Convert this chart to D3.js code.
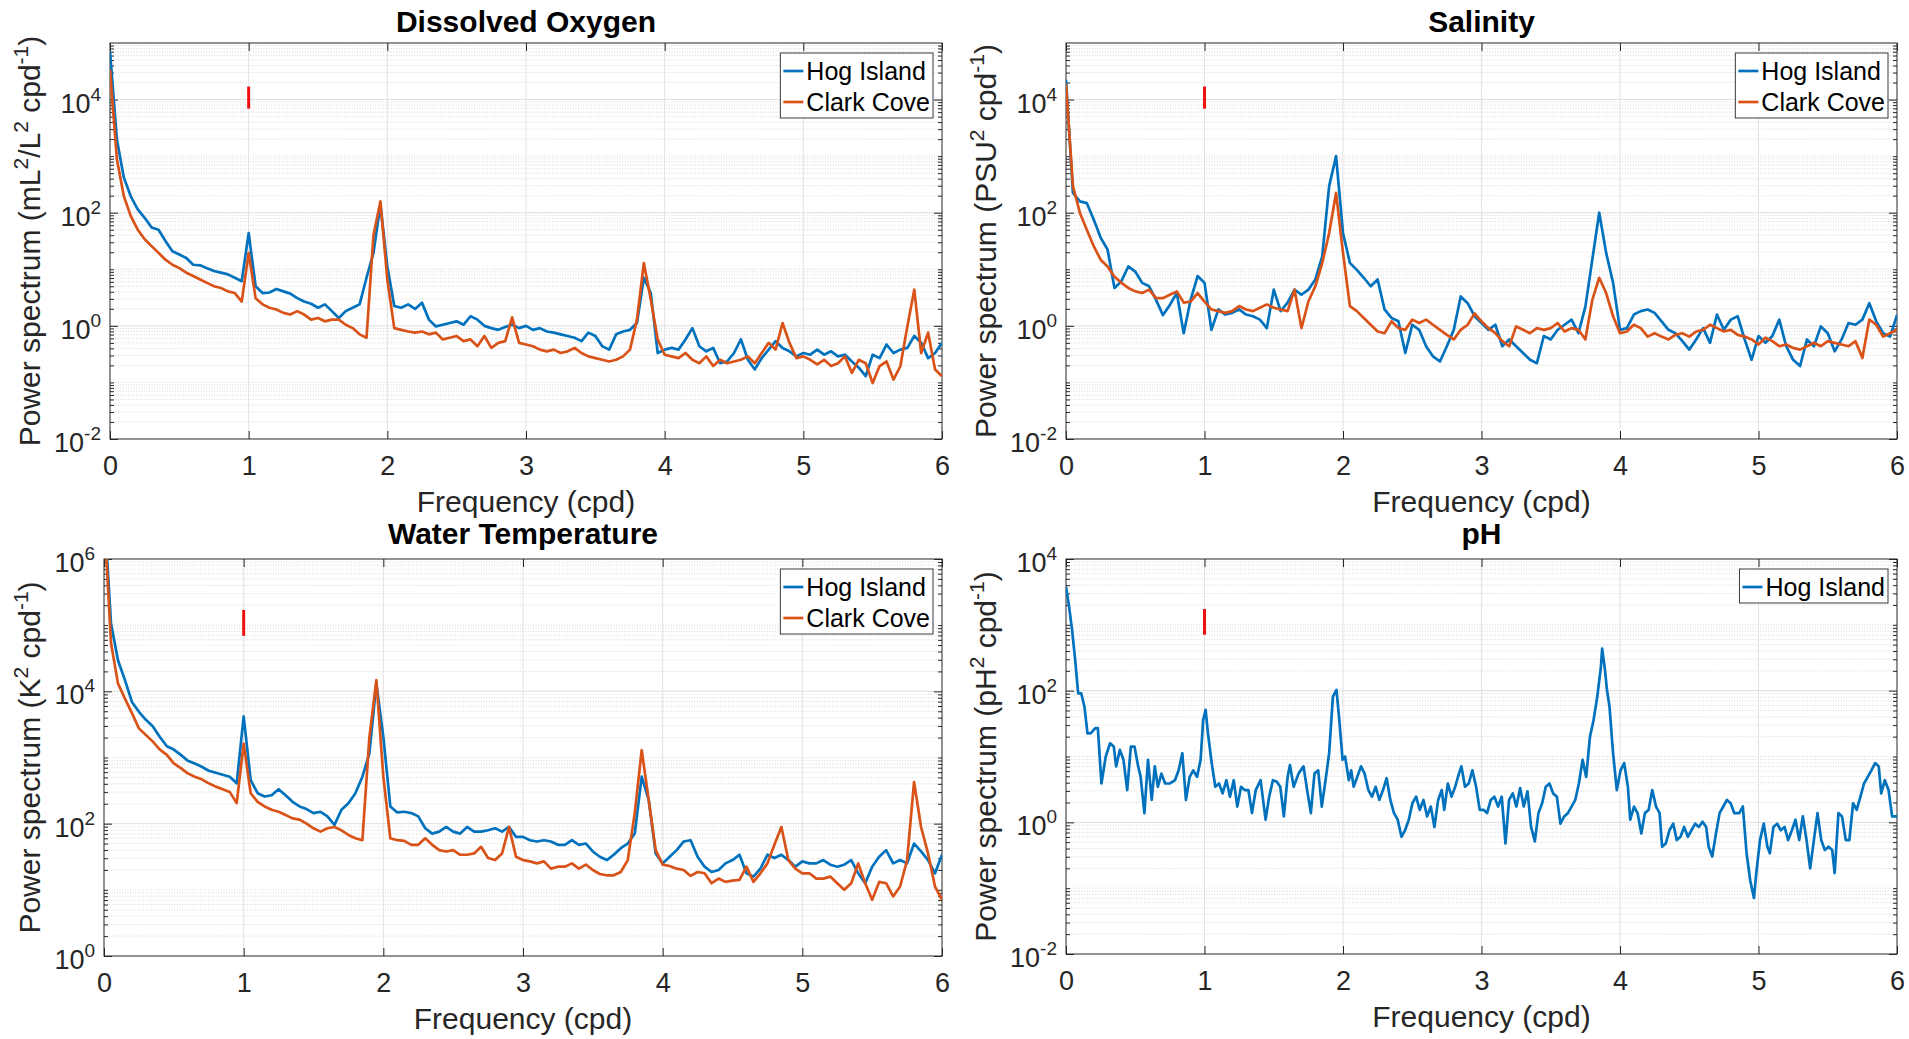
<!DOCTYPE html>
<html>
<head>
<meta charset="utf-8">
<script src="https://cdn.jsdelivr.net/npm/d3@7"></script>
<style>
    body { margin: 0; background: #fff; }
    svg { display: block; font-family: Arial, 'Liberation Sans', Helvetica, sans-serif; }
</style>
</head>
<body>
<svg id="chart" width="1909" height="1039"></svg>
<script>

// frequency bins (cpd) shared by the DO, salinity and temperature spectra
const freq = [
    0, 0.05, 0.1, 0.15, 0.2, 0.25, 0.3, 0.35, 0.4, 0.45,
    0.5, 0.55, 0.6, 0.65, 0.7, 0.75, 0.8, 0.85, 0.9, 0.95,
    1, 1.05, 1.1, 1.15, 1.2, 1.25, 1.3, 1.35, 1.4, 1.45,
    1.5, 1.55, 1.6, 1.65, 1.7, 1.75, 1.8, 1.85, 1.9, 1.95,
    2, 2.05, 2.1, 2.15, 2.2, 2.25, 2.3, 2.35, 2.4, 2.45,
    2.5, 2.55, 2.6, 2.65, 2.7, 2.75, 2.8, 2.85, 2.9, 2.95,
    3, 3.05, 3.1, 3.15, 3.2, 3.25, 3.3, 3.35, 3.4, 3.45,
    3.5, 3.55, 3.6, 3.65, 3.7, 3.75, 3.8, 3.85, 3.9, 3.95,
    4, 4.05, 4.1, 4.15, 4.2, 4.25, 4.3, 4.35, 4.4, 4.45,
    4.5, 4.55, 4.6, 4.65, 4.7, 4.75, 4.8, 4.85, 4.9, 4.95,
    5, 5.05, 5.1, 5.15, 5.2, 5.25, 5.3, 5.35, 5.4, 5.45,
    5.5, 5.55, 5.6, 5.65, 5.7, 5.75, 5.8, 5.85, 5.9, 5.95,
    6
]

// spectra, stored as log10 of the power
const doHogLog = [
    4.85, 3.29, 2.62, 2.29, 2.06, 1.91, 1.74, 1.70, 1.50, 1.32,
    1.26, 1.20, 1.08, 1.07, 1.02, 0.97, 0.94, 0.91, 0.85, 0.79,
    1.64, 0.70, 0.58, 0.59, 0.65, 0.61, 0.57, 0.49, 0.43, 0.39,
    0.32, 0.38, 0.26, 0.14, 0.26, 0.32, 0.38, 0.85, 1.29, 2.14,
    1.05, 0.35, 0.32, 0.38, 0.30, 0.41, 0.11, -0.01, 0.02, 0.05,
    0.08, 0.02, 0.17, 0.11, 0.00, -0.04, -0.07, -0.02, 0.02, -0.04,
    0.00, -0.07, -0.04, -0.10, -0.12, -0.15, -0.18, -0.21, -0.27, -0.12,
    -0.18, -0.36, -0.42, -0.15, -0.10, -0.07, 0.05, 0.85, 0.58, -0.48,
    -0.42, -0.39, -0.42, -0.24, -0.04, -0.36, -0.45, -0.39, -0.66, -0.63,
    -0.48, -0.24, -0.60, -0.77, -0.57, -0.42, -0.27, -0.39, -0.45, -0.54,
    -0.48, -0.51, -0.42, -0.51, -0.45, -0.54, -0.51, -0.63, -0.74, -0.89,
    -0.51, -0.57, -0.33, -0.48, -0.42, -0.39, -0.18, -0.30, -0.57, -0.48,
    -0.30
]
const doClarkLog = [
    4.53, 2.94, 2.29, 1.94, 1.70, 1.53, 1.41, 1.29, 1.17, 1.08,
    1.02, 0.94, 0.88, 0.82, 0.76, 0.70, 0.67, 0.61, 0.58, 0.43,
    1.29, 0.49, 0.38, 0.32, 0.29, 0.23, 0.20, 0.26, 0.20, 0.11,
    0.14, 0.08, 0.11, 0.11, 0.02, -0.04, -0.15, -0.21, 1.60, 2.20,
    0.82, -0.04, -0.07, -0.10, -0.12, -0.10, -0.15, -0.12, -0.24, -0.21,
    -0.18, -0.27, -0.24, -0.36, -0.18, -0.39, -0.30, -0.27, 0.15, -0.30,
    -0.33, -0.36, -0.42, -0.45, -0.42, -0.48, -0.45, -0.39, -0.48, -0.54,
    -0.57, -0.60, -0.63, -0.60, -0.54, -0.42, 0.11, 1.11, 0.46, -0.24,
    -0.51, -0.54, -0.57, -0.48, -0.60, -0.66, -0.54, -0.71, -0.60, -0.66,
    -0.63, -0.60, -0.54, -0.66, -0.48, -0.30, -0.42, 0.05, -0.30, -0.57,
    -0.54, -0.60, -0.68, -0.60, -0.71, -0.66, -0.54, -0.83, -0.60, -0.66,
    -1.01, -0.71, -0.63, -0.95, -0.71, -0.01, 0.64, -0.48, -0.12, -0.77,
    -0.89
]
const salHogLog = [
    4.35, 2.35, 2.20, 2.17, 1.88, 1.56, 1.35, 0.67, 0.79, 1.05,
    0.96, 0.76, 0.70, 0.46, 0.19, 0.37, 0.58, -0.13, 0.46, 0.88,
    0.76, -0.07, 0.29, 0.20, 0.23, 0.29, 0.20, 0.17, 0.11, -0.04,
    0.64, 0.26, 0.41, 0.64, 0.55, 0.64, 0.82, 1.23, 2.47, 3.00,
    1.64, 1.11, 0.99, 0.85, 0.70, 0.82, 0.29, 0.14, 0.08, -0.48,
    0.02, -0.07, -0.36, -0.54, -0.63, -0.36, -0.07, 0.52, 0.40, 0.17,
    0.05, -0.07, 0.02, -0.36, -0.24, -0.36, -0.48, -0.60, -0.66, -0.18,
    -0.24, -0.07, 0.02, 0.11, -0.13, 0.34, 1.17, 2.00, 1.29, 0.76,
    -0.07, -0.04, 0.20, 0.26, 0.29, 0.23, 0.08, -0.07, -0.13, -0.27,
    -0.42, -0.24, -0.04, -0.30, 0.20, -0.07, 0.11, 0.17, -0.24, -0.60,
    -0.18, -0.30, -0.18, 0.11, -0.36, -0.60, -0.71, -0.24, -0.36, -0.01,
    -0.13, -0.45, -0.24, 0.05, 0.02, 0.11, 0.40, 0.08, -0.13, -0.19,
    0.19
]
const salClarkLog = [
    4.27, 2.47, 2.00, 1.70, 1.41, 1.17, 1.05, 0.87, 0.76, 0.67,
    0.61, 0.58, 0.64, 0.49, 0.49, 0.55, 0.61, 0.41, 0.43, 0.58,
    0.43, 0.29, 0.26, 0.23, 0.26, 0.35, 0.29, 0.26, 0.32, 0.38,
    0.32, 0.29, 0.26, 0.64, -0.04, 0.43, 0.70, 1.11, 1.64, 2.35,
    1.29, 0.35, 0.26, 0.14, 0.02, -0.10, -0.13, 0.08, -0.04, -0.07,
    0.11, 0.05, 0.11, 0.02, -0.07, -0.16, -0.24, -0.07, 0.02, 0.22,
    0.08, -0.04, -0.13, -0.27, -0.36, -0.01, -0.07, -0.13, -0.04, -0.07,
    -0.04, 0.05, -0.10, -0.04, -0.07, -0.24, 0.46, 0.85, 0.58, 0.17,
    -0.13, -0.10, 0.02, -0.04, -0.19, -0.13, -0.19, -0.24, -0.16, -0.13,
    -0.19, -0.10, -0.07, 0.02, -0.04, -0.10, -0.07, -0.16, -0.19, -0.24,
    -0.33, -0.21, -0.27, -0.36, -0.33, -0.39, -0.42, -0.36, -0.30, -0.36,
    -0.27, -0.30, -0.33, -0.36, -0.27, -0.57, 0.11, 0.02, -0.19, -0.13,
    -0.07
]
const tempHogLog = [
    6.80, 5.03, 4.47, 4.17, 3.84, 3.69, 3.57, 3.47, 3.31, 3.17,
    3.12, 3.04, 2.95, 2.91, 2.86, 2.80, 2.77, 2.74, 2.71, 2.61,
    3.62, 2.66, 2.46, 2.41, 2.43, 2.52, 2.43, 2.33, 2.26, 2.22,
    2.16, 2.18, 2.11, 1.98, 2.21, 2.31, 2.46, 2.71, 3.06, 4.12,
    3.31, 2.26, 2.17, 2.18, 2.16, 2.11, 1.93, 1.85, 1.88, 1.95,
    1.88, 1.85, 1.95, 1.88, 1.88, 1.90, 1.93, 1.88, 1.95, 1.80,
    1.80, 1.75, 1.73, 1.75, 1.73, 1.68, 1.68, 1.75, 1.68, 1.70,
    1.58, 1.50, 1.45, 1.53, 1.63, 1.70, 1.85, 2.71, 2.36, 1.55,
    1.40, 1.50, 1.60, 1.73, 1.75, 1.50, 1.35, 1.27, 1.30, 1.40,
    1.45, 1.53, 1.25, 1.20, 1.32, 1.53, 1.48, 1.53, 1.45, 1.35,
    1.43, 1.40, 1.40, 1.45, 1.38, 1.35, 1.38, 1.45, 1.25, 1.10,
    1.35, 1.50, 1.60, 1.40, 1.45, 1.40, 1.70, 1.58, 1.45, 1.25,
    1.53
]
const tempClarkLog = [
    6.70, 4.73, 4.12, 3.89, 3.67, 3.44, 3.34, 3.24, 3.12, 3.04,
    2.91, 2.84, 2.76, 2.71, 2.67, 2.61, 2.56, 2.52, 2.48, 2.31,
    3.21, 2.46, 2.33, 2.26, 2.21, 2.18, 2.13, 2.08, 2.06, 2.00,
    1.93, 1.88, 1.93, 1.95, 1.90, 1.83, 1.78, 1.75, 3.30, 4.17,
    2.71, 1.78, 1.75, 1.74, 1.68, 1.68, 1.78, 1.68, 1.60, 1.58,
    1.60, 1.53, 1.53, 1.55, 1.65, 1.48, 1.45, 1.55, 1.95, 1.50,
    1.45, 1.43, 1.40, 1.43, 1.32, 1.35, 1.35, 1.40, 1.32, 1.38,
    1.30, 1.24, 1.22, 1.22, 1.27, 1.45, 2.16, 3.11, 2.36, 1.60,
    1.38, 1.36, 1.32, 1.30, 1.21, 1.27, 1.25, 1.10, 1.17, 1.12,
    1.14, 1.15, 1.35, 1.12, 1.25, 1.40, 1.68, 1.95, 1.45, 1.32,
    1.25, 1.25, 1.17, 1.17, 1.20, 1.10, 1.00, 1.10, 1.40, 1.10,
    0.85, 1.12, 1.10, 0.90, 1.05, 1.45, 2.63, 1.95, 1.55, 1.05,
    0.85
]

// pH spectrum is noisier, read at its own [frequency, log10 power] points
const phHogLog = [
    [0, 3.58], [0.022, 3.28], [0.044, 2.92], [0.066, 2.47], [0.088, 1.96], [0.110, 1.96],
    [0.133, 1.76], [0.155, 1.35], [0.177, 1.35], [0.212, 1.43], [0.230, 1.43], [0.256, 0.59],
    [0.287, 1.00], [0.318, 1.20], [0.345, 1.15], [0.362, 0.85], [0.389, 1.10], [0.415, 0.95],
    [0.442, 0.49], [0.468, 1.15], [0.495, 1.15], [0.521, 0.85], [0.539, 0.69], [0.566, 0.14],
    [0.592, 0.95], [0.619, 0.34], [0.641, 0.85], [0.663, 0.54], [0.689, 0.74], [0.716, 0.59],
    [0.751, 0.59], [0.787, 0.64], [0.813, 0.79], [0.840, 1.05], [0.866, 0.34], [0.893, 0.69],
    [0.919, 0.79], [0.946, 0.69], [0.972, 0.95], [0.990, 1.55], [1.008, 1.71], [1.025, 1.35],
    [1.052, 0.90], [1.078, 0.54], [1.105, 0.59], [1.131, 0.44], [1.158, 0.64], [1.184, 0.39],
    [1.211, 0.64], [1.237, 0.24], [1.264, 0.54], [1.290, 0.49], [1.317, 0.49], [1.343, 0.14],
    [1.370, 0.49], [1.405, 0.64], [1.441, 0.04], [1.467, 0.39], [1.494, 0.64], [1.520, 0.62],
    [1.547, 0.54], [1.573, 0.09], [1.600, 0.69], [1.617, 0.87], [1.644, 0.54], [1.679, 0.74],
    [1.715, 0.85], [1.741, 0.49], [1.768, 0.14], [1.794, 0.74], [1.821, 0.79], [1.847, 0.24],
    [1.874, 0.64], [1.900, 1.05], [1.927, 1.91], [1.953, 2.01], [1.971, 1.61], [1.997, 0.95],
    [2.015, 1.00], [2.042, 0.64], [2.059, 0.79], [2.077, 0.54], [2.103, 0.69], [2.130, 0.85],
    [2.156, 0.74], [2.183, 0.49], [2.209, 0.39], [2.236, 0.54], [2.262, 0.34], [2.289, 0.49],
    [2.315, 0.67], [2.342, 0.34], [2.368, 0.14], [2.395, 0.04], [2.422, -0.22], [2.448, -0.12],
    [2.475, 0.04], [2.501, 0.29], [2.528, 0.39], [2.554, 0.19], [2.581, 0.34], [2.607, 0.09],
    [2.634, 0.24], [2.660, -0.07], [2.687, 0.34], [2.713, 0.49], [2.731, 0.19], [2.757, 0.59],
    [2.784, 0.39], [2.810, 0.54], [2.837, 0.74], [2.855, 0.85], [2.881, 0.54], [2.908, 0.59],
    [2.934, 0.79], [2.961, 0.54], [2.987, 0.19], [3.014, 0.19], [3.040, 0.14], [3.067, 0.34],
    [3.093, 0.39], [3.120, 0.24], [3.146, 0.39], [3.173, -0.32], [3.199, 0.34], [3.226, 0.44],
    [3.252, 0.24], [3.279, 0.52], [3.305, 0.24], [3.332, 0.47], [3.358, -0.07], [3.385, -0.29],
    [3.411, 0.14], [3.438, 0.29], [3.464, 0.54], [3.491, 0.59], [3.517, 0.44], [3.544, 0.39],
    [3.570, -0.02], [3.597, 0.09], [3.624, 0.14], [3.650, 0.24], [3.677, 0.34], [3.703, 0.59],
    [3.730, 0.95], [3.756, 0.69], [3.783, 1.30], [3.809, 1.55], [3.836, 1.91], [3.862, 2.36],
    [3.871, 2.64], [3.889, 2.36], [3.906, 2.01], [3.924, 1.76], [3.950, 1.05], [3.977, 0.49],
    [4.004, 0.79], [4.030, 0.90], [4.057, 0.54], [4.074, 0.04], [4.101, 0.24], [4.127, 0.14],
    [4.154, -0.17], [4.180, 0.14], [4.207, 0.19], [4.233, 0.49], [4.260, 0.24], [4.286, 0.14],
    [4.304, -0.37], [4.331, -0.32], [4.357, -0.12], [4.384, -0.02], [4.410, -0.27], [4.437, -0.22],
    [4.463, -0.07], [4.490, -0.22], [4.516, -0.12], [4.543, -0.02], [4.569, -0.07], [4.596, 0.01],
    [4.622, -0.07], [4.640, -0.37], [4.666, -0.52], [4.693, -0.17], [4.719, 0.14], [4.746, 0.24],
    [4.772, 0.34], [4.799, 0.29], [4.825, 0.14], [4.861, 0.14], [4.887, 0.24], [4.914, -0.47],
    [4.940, -0.88], [4.967, -1.15], [4.984, -0.77], [5.011, -0.27], [5.038, -0.02], [5.064, -0.37],
    [5.082, -0.47], [5.108, -0.07], [5.135, -0.02], [5.161, -0.12], [5.188, -0.07], [5.214, -0.27],
    [5.241, -0.12], [5.267, 0.04], [5.294, -0.27], [5.320, 0.09], [5.347, -0.27], [5.373, -0.70],
    [5.400, -0.27], [5.426, 0.14], [5.453, -0.27], [5.479, -0.42], [5.506, -0.37], [5.532, -0.42],
    [5.550, -0.77], [5.577, 0.14], [5.603, 0.09], [5.630, -0.27], [5.656, -0.27], [5.683, 0.29],
    [5.709, 0.19], [5.736, 0.39], [5.762, 0.59], [5.789, 0.69], [5.815, 0.79], [5.842, 0.90],
    [5.868, 0.85], [5.886, 0.44], [5.912, 0.64], [5.939, 0.49], [5.965, 0.09], [6.0, 0.09]
]

// red confidence bar drawn at 1 cpd, [low, high] as log10 power
const ciFreq = 1
const doCI = [3.84, 4.23]
const salCI = [3.84, 4.23]
const tempCI = [4.84, 5.23]
const phCI = [2.85, 3.24]

const freqTicks = [0, 1, 2, 3, 4, 5, 6]
const seriesNames = ['Hog Island', 'Clark Cove']
const colors = ['#0072BD', '#D95319']

const panels = [
    {
        id: 'do', title: 'Dissolved Oxygen', titleY: 32,
        ylabel: [['Power spectrum (mL'], ['2', 1], ['/L'], ['2', 1], [' cpd'], ['-1', 1], [')']],
        left: 110, right: 942, top: 43, bottom: 439, ylabelX: 40,
        yDomain: [1e-2, 1e5], yLabelExp: [-2, 0, 2, 4],
        series: [d3.zip(freq, doHogLog), d3.zip(freq, doClarkLog)], ci: doCI
    },
    {
        id: 'sal', title: 'Salinity', titleY: 32,
        ylabel: [['Power spectrum (PSU'], ['2', 1], [' cpd'], ['-1', 1], [')']],
        left: 1066, right: 1897, top: 43, bottom: 439, ylabelX: 996,
        yDomain: [1e-2, 1e5], yLabelExp: [-2, 0, 2, 4],
        series: [d3.zip(freq, salHogLog), d3.zip(freq, salClarkLog)], ci: salCI
    },
    {
        id: 'temp', title: 'Water Temperature', titleY: 544,
        ylabel: [['Power spectrum (K'], ['2', 1], [' cpd'], ['-1', 1], [')']],
        left: 104, right: 942, top: 559, bottom: 956, ylabelX: 40,
        yDomain: [1, 1e6], yLabelExp: [0, 2, 4, 6],
        series: [d3.zip(freq, tempHogLog), d3.zip(freq, tempClarkLog)], ci: tempCI
    },
    {
        id: 'ph', title: 'pH', titleY: 544,
        ylabel: [['Power spectrum (pH'], ['2', 1], [' cpd'], ['-1', 1], [')']],
        left: 1066, right: 1897, top: 559, bottom: 954, ylabelX: 996,
        yDomain: [1e-2, 1e4], yLabelExp: [-2, 0, 2, 4],
        series: [phHogLog], ci: phCI
    }
]

const svg = d3.select('#chart')
const axisColor = '#262626'
const tickFont = 27

function styleAxis(sel) {
    sel.select('.domain').remove()
    sel.selectAll('line').attr('stroke', axisColor)
    sel.selectAll('text').attr('fill', axisColor).attr('font-size', tickFont)
        .style('font-family', 'Arial, "Liberation Sans", sans-serif')
}

function drawPanel(p) {
    const x = d3.scaleLinear().domain([0, 6]).range([p.left, p.right])
    const y = d3.scaleLog().domain(p.yDomain).range([p.bottom, p.top])
    const g = svg.append('g').attr('class', 'panel-' + p.id)

    svg.append('clipPath').attr('id', 'clip-' + p.id)
        .append('rect')
        .attr('x', p.left).attr('y', p.top)
        .attr('width', p.right - p.left).attr('height', p.bottom - p.top)

    // decade and in-decade values for the log axis
    const e0 = Math.round(Math.log10(p.yDomain[0]))
    const e1 = Math.round(Math.log10(p.yDomain[1]))
    const majors = p.yLabelExp.map(e => Math.pow(10, e))
    const minors = []
    for (let e = e0; e < e1; e++) {
        for (let k = 1; k <= 9; k++) {
            if (k === 1 && p.yLabelExp.includes(e)) continue
            minors.push(k * Math.pow(10, e))
        }
    }

    // grid
    g.append('g')
        .selectAll('line')
        .data(minors)
        .join('line')
        .attr('x1', p.left).attr('x2', p.right)
        .attr('y1', d => y(d)).attr('y2', d => y(d))
        .attr('stroke', '#cfcfcf')
        .attr('stroke-width', 0.8)
        .attr('stroke-dasharray', '1,1.6')

    g.append('g')
        .selectAll('line')
        .data(majors.filter(v => v > p.yDomain[0] && v < p.yDomain[1]))
        .join('line')
        .attr('x1', p.left).attr('x2', p.right)
        .attr('y1', d => y(d)).attr('y2', d => y(d))
        .attr('stroke', '#dedede')

    g.append('g')
        .selectAll('line')
        .data(freqTicks.slice(1, -1))
        .join('line')
        .attr('x1', d => x(d)).attr('x2', d => x(d))
        .attr('y1', p.top).attr('y2', p.bottom)
        .attr('stroke', '#e2e2e2')

    // axes: ticks point inwards on all four sides
    g.append('g')
        .attr('transform', `translate(0,${p.bottom})`)
        .call(d3.axisBottom(x).tickValues(freqTicks).tickSizeInner(-8).tickSizeOuter(0)
            .tickPadding(17).tickFormat(d3.format('d')))
        .call(styleAxis)

    g.append('g')
        .attr('transform', `translate(0,${p.top})`)
        .call(d3.axisTop(x).tickValues(freqTicks).tickSizeInner(-8).tickSizeOuter(0).tickFormat(''))
        .call(styleAxis)

    ;[[d3.axisLeft, p.left], [d3.axisRight, p.right]].forEach(([axis, pos]) => {
        g.append('g')
            .attr('transform', `translate(${pos},0)`)
            .call(axis(y).tickValues(majors).tickSizeInner(-8).tickSizeOuter(0).tickFormat(''))
            .call(styleAxis)
        g.append('g')
            .attr('transform', `translate(${pos},0)`)
            .call(axis(y).tickValues(minors).tickSizeInner(-4).tickSizeOuter(0).tickFormat(''))
            .call(styleAxis)
    })

    g.append('rect')
        .attr('x', p.left).attr('y', p.top)
        .attr('width', p.right - p.left).attr('height', p.bottom - p.top)
        .attr('fill', 'none')
        .attr('stroke', axisColor)

    // 10^n tick labels
    p.yLabelExp.forEach(e => {
        const t = g.append('text')
            .attr('x', p.left - 9)
            .attr('y', y(Math.pow(10, e)) + 13)
            .attr('text-anchor', 'end')
            .attr('font-size', tickFont)
            .attr('fill', axisColor)
        t.append('tspan').text('10')
        t.append('tspan').attr('dy', -12).attr('font-size', 19).text(e)
    })

    // labels and title
    g.append('text')
        .attr('x', (p.left + p.right) / 2)
        .attr('y', p.bottom + 73)
        .attr('text-anchor', 'middle')
        .attr('font-size', 30)
        .attr('fill', axisColor)
        .text('Frequency (cpd)')

    const yl = g.append('text')
        .attr('transform', `translate(${p.ylabelX},${(p.top + p.bottom) / 2}) rotate(-90)`)
        .attr('text-anchor', 'middle')
        .attr('font-size', 30)
        .attr('fill', axisColor)
    let raised = false
    p.ylabel.forEach(([s, sup]) => {
        const ts = yl.append('tspan').text(s)
        if (sup && !raised) ts.attr('dy', -12).attr('font-size', 21)
        else if (sup) ts.attr('font-size', 21)
        else if (raised) ts.attr('dy', 12)
        raised = !!sup
    })

    g.append('text')
        .attr('x', (p.left + p.right) / 2)
        .attr('y', p.titleY)
        .attr('text-anchor', 'middle')
        .attr('font-size', 30)
        .attr('font-weight', 'bold')
        .attr('fill', '#000')
        .text(p.title)

    // spectra
    const line = d3.line()
        .x(d => x(d[0]))
        .y(d => y(Math.pow(10, d[1])))

    g.append('g')
        .attr('clip-path', `url(#clip-${p.id})`)
        .selectAll('path')
        .data(p.series)
        .join('path')
        .attr('d', line)
        .attr('fill', 'none')
        .attr('stroke', (d, i) => colors[i])
        .attr('stroke-width', 2.7)
        .attr('stroke-linejoin', 'round')

    // confidence bar at 1 cpd
    g.append('line')
        .attr('x1', x(ciFreq)).attr('x2', x(ciFreq))
        .attr('y1', y(Math.pow(10, p.ci[0]))).attr('y2', y(Math.pow(10, p.ci[1])))
        .attr('stroke', '#ee1111')
        .attr('stroke-width', 3)

    // legend
    const names = seriesNames.slice(0, p.series.length)
    const leg = g.append('g')
    const box = leg.append('rect')
    const labels = leg.selectAll('text')
        .data(names)
        .join('text')
        .attr('font-size', 25)
        .attr('fill', '#000')
        .text(d => d)
    const maxW = d3.max(labels.nodes(), n => n.getComputedTextLength())
    const boxRight = p.right - 9
    const boxLeft = boxRight - maxW - 29
    box.attr('x', boxLeft).attr('y', p.top + 10)
        .attr('width', boxRight - boxLeft).attr('height', 31 * names.length + 3)
        .attr('fill', '#fff')
        .attr('stroke', '#3a3a3a')
    labels.attr('x', boxLeft + 26).attr('y', (d, i) => p.top + 37 + 31 * i)
    leg.selectAll('line')
        .data(names)
        .join('line')
        .attr('x1', boxLeft + 3).attr('x2', boxLeft + 23)
        .attr('y1', (d, i) => p.top + 28 + 31 * i)
        .attr('y2', (d, i) => p.top + 28 + 31 * i)
        .attr('stroke', (d, i) => colors[i])
        .attr('stroke-width', 2.7)
}

panels.forEach(drawPanel)

</script>
</body>
</html>
